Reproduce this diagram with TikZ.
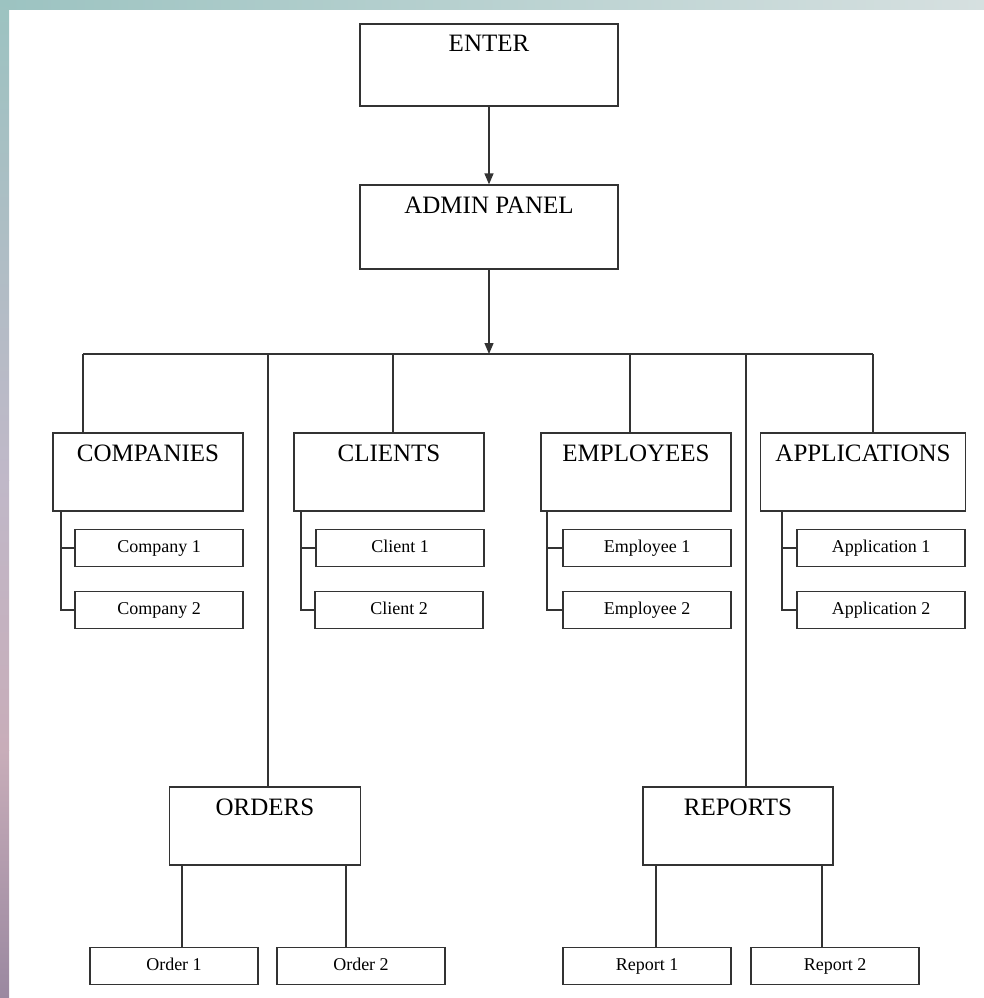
\documentclass[tikz,border=0pt]{standalone}
\usepackage{fontspec}
\setmainfont{Liberation Serif}
\usetikzlibrary{arrows.meta}

\definecolor{rimteal}{HTML}{9CC3C1}
\definecolor{rimgray}{HTML}{D6E0E0}
\definecolor{rimlilac}{HTML}{C0B8C8}
\definecolor{rimpink}{HTML}{C8ADB9}
\definecolor{rimplum}{HTML}{9A88A0}
\definecolor{inkline}{HTML}{333333}

\begin{document}
\begin{tikzpicture}[x=1pt, y=-1pt, line width=1.3pt, draw=inkline,
    >={Triangle[length=11pt, width=9pt]},
    headbox/.style={draw, rectangle, minimum width=#1, inner ysep=8pt,
        text height=20pt, text depth=42pt, font=\fontsize{25}{30}\selectfont},
    headbox/.default=190pt,
    itembox/.style={draw, rectangle, minimum width=168pt, inner ysep=10pt,
        text height=13pt, text depth=4pt, font=\fontsize{18}{22}\selectfont}]
    \useasboundingbox (0, 0) rectangle (984, 998);

    % frame
    \shade [left color=rimteal, right color=rimgray] (0, 0) rectangle (984, 10);
    \shade [top color=rimteal, bottom color=rimlilac] (0, 0) rectangle (9, 480);
    \shade [top color=rimlilac, bottom color=rimpink] (0, 480) rectangle (9, 750);
    \shade [top color=rimpink, bottom color=rimplum] (0, 750) rectangle (9, 998);

    \node [headbox=258pt, text depth=46pt] (enter) at (489, 65) {ENTER};
    \node [headbox=258pt, text depth=48pt] (admin) at (489, 227) {ADMIN PANEL};

    \node [headbox] (companies) at (148, 472) {COMPANIES};
    \node [headbox] (clients) at (389, 472) {CLIENTS};
    \node [headbox] (employees) at (636, 472) {EMPLOYEES};
    \node [headbox=205pt] (applications) at (863, 472) {APPLICATIONS};
    \node [headbox=191pt] (orders) at (265, 826) {ORDERS};
    \node [headbox] (reports) at (738, 826) {REPORTS};

    \node [itembox] (company1) at (159, 548) {Company 1};
    \node [itembox] (company2) at (159, 610) {Company 2};
    \node [itembox] (client1) at (400, 548) {Client 1};
    \node [itembox] (client2) at (399, 610) {Client 2};
    \node [itembox] (employee1) at (647, 548) {Employee 1};
    \node [itembox] (employee2) at (647, 610) {Employee 2};
    \node [itembox] (application1) at (881, 548) {Application 1};
    \node [itembox] (application2) at (881, 610) {Application 2};
    \node [itembox] (order1) at (174, 966) {Order 1};
    \node [itembox] (order2) at (361, 966) {Order 2};
    \node [itembox] (report1) at (647, 966) {Report 1};
    \node [itembox] (report2) at (835, 966) {Report 2};

    \coordinate (busleft) at (83, 354);
    \coordinate (busright) at (873, 354);

    \draw [->] (enter) -- (admin);
    \draw [->] (admin) -- (admin |- busleft);
    \draw (busleft) -- (busright);

    \foreach \name/\x in {companies/83, clients/393, employees/630,
                          applications/873, orders/268, reports/746} {
        \draw (\x, 354) -- (\x, 0 |- \name.north);
        }

    \foreach \head/\sub/\dx in {companies/company/8.5, clients/client/7.5,
                                employees/employee/6.5, applications/application/22} {
        \draw ([xshift=\dx pt]\head.south west) |- (\sub1.west);
        \draw ([xshift=\dx pt]\head.south west) |- (\sub2.west);
        }

    \foreach \sub/\dx in {order1/8, order2/-15, report1/9, report2/-13} {
        \draw ([xshift=\dx pt]\sub.north) -- ([xshift=\dx pt]\sub.north |- orders.south);
        }
\end{tikzpicture}
\end{document}
